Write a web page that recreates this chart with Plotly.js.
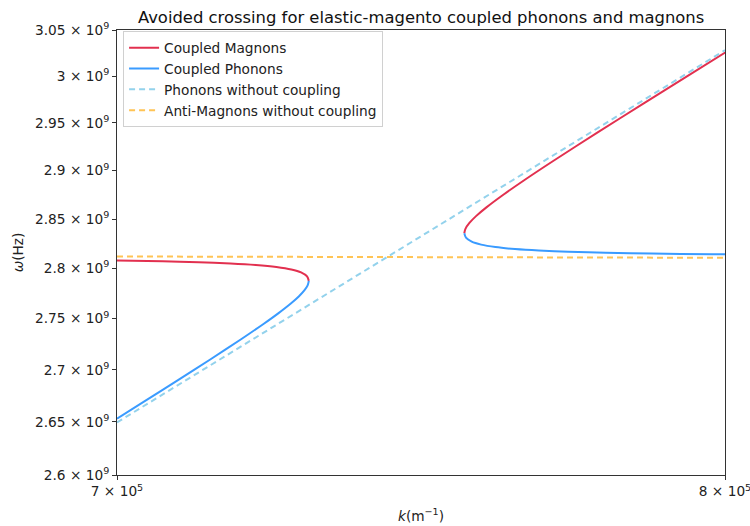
<!DOCTYPE html>
<html>
<head>
<meta charset="utf-8">
<script src="https://cdn.plot.ly/plotly-3.0.1.min.js"></script>
<style>html,body{margin:0;padding:0;background:#fff;}#chart{width:750px;height:526px;}</style>
</head>
<body>
<div id="chart"></div>
<script>
// Coupled magnon branch (lower-left piece, then upper-right piece; null separates them)
const magnonK = [6.9957e5, 7.0705e5, 7.1268e5, 7.1767e5, 7.2166e5, 7.2494e5, 7.2732e5, 7.2888e5, 7.2984e5, 7.3012e5,
                 null,
                 7.5548e5, 7.5567e5, 7.5633e5, 7.5743e5, 7.5916e5, 7.6198e5, 7.6548e5, 7.7037e5, 7.7794e5, 7.8564e5, 7.9341e5, 8.0018e5];
const magnonW = [2.8079e9, 2.8071e9, 2.8062e9, 2.8050e9, 2.8035e9, 2.8015e9, 2.7990e9, 2.7960e9, 2.7920e9, 2.7875e9,
                 null,
                 2.8355e9, 2.8400e9, 2.8460e9, 2.8530e9, 2.8620e9, 2.8750e9, 2.8900e9, 2.9100e9, 2.9400e9, 2.9700e9, 3.0000e9, 3.0260e9];

// Coupled phonon branch
const phononK = [7.3012e5, 7.2993e5, 7.2940e5, 7.2851e5, 7.2724e5, 7.2518e5, 7.2294e5, 7.1940e5, 7.1448e5, 7.0944e5, 7.0434e5, 7.0000e5,
                 null,
                 7.5548e5, 7.5576e5, 7.5671e5, 7.5828e5, 7.6066e5, 7.6394e5, 7.6793e5, 7.7292e5, 7.7933e5, 7.8721e5, 7.9789e5, 8.0202e5];
const phononW = [2.7875e9, 2.7830e9, 2.7780e9, 2.7720e9, 2.7650e9, 2.7550e9, 2.7450e9, 2.7300e9, 2.7100e9, 2.6900e9, 2.6700e9, 2.6531e9,
                 null,
                 2.8355e9, 2.8310e9, 2.8270e9, 2.8240e9, 2.8215e9, 2.8195e9, 2.8180e9, 2.8168e9, 2.8158e9, 2.8150e9, 2.8143e9, 2.8141e9];

// Uncoupled dispersions
const freePhononK = [7.0e5, 8.0e5];
const freePhononW = [2.6495e9, 3.0280e9];
const freeMagnonK = [7.0e5, 8.0e5];
const freeMagnonW = [2.8120e9, 2.8107e9];

// Tick values and labels
const yTickVals = [2.6e9, 2.65e9, 2.7e9, 2.75e9, 2.8e9, 2.85e9, 2.9e9, 2.95e9, 3.0e9, 3.05e9];
const yTickText = ['2.6', '2.65', '2.7', '2.75', '2.8', '2.85', '2.9', '2.95', '3', '3.05']
  .map(s => s + ' × 10<sup>9</sup>');
const xTickVals = [7e5, 8e5];
const xTickText = ['7 × 10<sup>5</sup>', '8 × 10<sup>5</sup>'];

const traces = [
  {x: magnonK, y: magnonW, type: 'scatter', mode: 'lines', name: 'Coupled Magnons',
   line: {color: '#e2304f', width: 2, shape: 'spline', smoothing: 0.8}, connectgaps: false},
  {x: phononK, y: phononW, type: 'scatter', mode: 'lines', name: 'Coupled Phonons',
   line: {color: '#3a9bff', width: 2, shape: 'spline', smoothing: 0.8}, connectgaps: false},
  {x: freePhononK, y: freePhononW, type: 'scatter', mode: 'lines', name: 'Phonons without coupling',
   line: {color: '#93d2ec', width: 2, dash: '6px,4px'}},
  {x: freeMagnonK, y: freeMagnonW, type: 'scatter', mode: 'lines', name: 'Anti-Magnons without coupling',
   line: {color: '#ffc455', width: 2, dash: '6px,4px'}}
];

const axisCommon = {
  type: 'log', showgrid: false, zeroline: false, showline: true, mirror: true,
  linecolor: '#333', linewidth: 1, ticks: 'outside', ticklen: 4, tickcolor: '#333',
  ticklabeloverflow: 'allow',
  tickfont: {family: 'DejaVu Sans', size: 13.7, color: '#222'}
};

const layout = {
  width: 750, height: 526,
  margin: {l: 117, r: 25, t: 30, b: 51},
  paper_bgcolor: '#fff', plot_bgcolor: '#fff',
  font: {family: 'DejaVu Sans', color: '#222'},
  title: {text: 'Avoided crossing for elastic-magento coupled phonons and magnons',
          font: {family: 'DejaVu Sans', size: 16.4, color: '#111'},
          x: 0.5615, xanchor: 'center', y: 0.968, yanchor: 'middle'},
  xaxis: Object.assign({}, axisCommon, {
    range: [Math.log10(7e5), Math.log10(8e5)],
    tickmode: 'array', tickvals: xTickVals, ticktext: xTickText,
    title: {text: '<i>k</i>(m<sup>−1</sup>)', font: {family: 'DejaVu Sans', size: 13.7}, standoff: 12}
  }),
  yaxis: Object.assign({}, axisCommon, {
    range: [Math.log10(2.6e9), Math.log10(3.05e9)],
    tickmode: 'array', tickvals: yTickVals, ticktext: yTickText,
    title: {text: '<i>ω</i>(Hz)', font: {family: 'DejaVu Sans', size: 13.7}, standoff: 8}
  }),
  showlegend: true,
  legend: {x: 0.01, y: 0.997, xanchor: 'left', yanchor: 'top',
           bgcolor: 'rgba(255,255,255,0.9)', bordercolor: '#d0d0d0', borderwidth: 1,
           font: {family: 'DejaVu Sans', size: 13.7, color: '#222'},
           itemwidth: 30, tracegroupgap: 0}
};

Plotly.newPlot('chart', traces, layout, {displayModeBar: false, staticPlot: true});
</script>
</body>
</html>
